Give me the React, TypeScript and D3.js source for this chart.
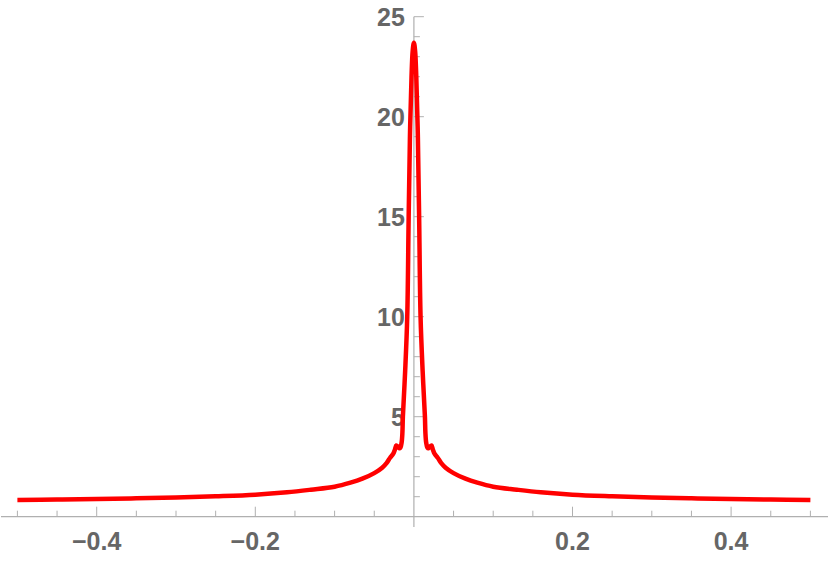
import React from "react";
import * as d3 from "d3";

const W = 830;
const H = 565;

// curve samples
const xs = [
  -0.5, -0.45, -0.4, -0.35, -0.3, -0.25, -0.2, -0.16, -0.13, -0.1, -0.08, -0.065, -0.05, -0.04, -0.0345,
  -0.03, -0.026, -0.024, -0.0222, -0.02, -0.0183, -0.017, -0.0155, -0.0145, -0.0139, -0.011, -0.0084,
  -0.0066, -0.005, -0.003, -0.0015, 0,
  0.0015, 0.003, 0.005, 0.0066, 0.0084, 0.011, 0.0139, 0.0145, 0.0155, 0.017, 0.0183, 0.02, 0.0222,
  0.024, 0.026, 0.03, 0.0345, 0.04, 0.05, 0.065, 0.08, 0.1, 0.13, 0.16, 0.2, 0.25, 0.3, 0.35, 0.4, 0.45, 0.5,
];
const ys = [
  0.84, 0.86, 0.89, 0.92, 0.96, 1.02, 1.1, 1.22, 1.35, 1.5, 1.7, 1.9, 2.18, 2.45, 2.68,
  2.95, 3.15, 3.35, 3.56, 3.5, 3.42, 3.45, 3.7, 4.2, 5.0, 7.3, 10.0,
  15.0, 19.0, 22.0, 23.3, 23.7,
  23.3, 22.0, 19.0, 15.0, 10.0, 7.3, 5.0, 4.2, 3.7, 3.45, 3.42, 3.5, 3.56,
  3.35, 3.15, 2.95, 2.68, 2.45, 2.18, 1.9, 1.7, 1.5, 1.35, 1.22, 1.1, 1.02, 0.96, 0.92, 0.89, 0.86, 0.84,
];

const xMajorTicks = [-0.4, -0.2, 0.2, 0.4];
const xMajorLabels = ["\u22120.4", "\u22120.2", "0.2", "0.4"];
const xMinorTicks = [-0.5, -0.45, -0.35, -0.3, -0.25, -0.15, -0.1, -0.05, 0.05, 0.1, 0.15, 0.25, 0.3, 0.35, 0.45, 0.5];
const yMajorTicks = [5, 10, 15, 20, 25];
const yMajorLabels = ["5", "10", "15", "20", "25"];
const yMinorTicks = [1, 2, 3, 4, 6, 7, 8, 9, 11, 12, 13, 14, 16, 17, 18, 19, 21, 22, 23, 24];

export default function App() {
  const x = d3.scaleLinear().domain([-0.5, 0.5]).range([17.4, 810.4]);
  const y = d3.scaleLinear().domain([0, 25]).range([516.7, 16.7]);
  const pts = xs.map((v, i) => [v, ys[i]] as [number, number]);
  const line = d3
    .line<[number, number]>()
    .x((d) => x(d[0]))
    .y((d) => y(d[1]))
    .curve(d3.curveCatmullRom.alpha(0.5));
  const x0 = x(0);
  const y0 = y(0);
  const axisColor = "#b0b0b0";
  const labelColor = "#666666";
  const font = "'Liberation Sans', Arial, sans-serif";
  return (
    <svg
      width={W}
      height={H}
      style={{ position: "absolute", left: 0, top: 0, background: "#fff" }}
    >
      {/* axes */}
      <line x1={1} x2={828} y1={y0} y2={y0} stroke={axisColor} strokeWidth={1.2} />
      <line x1={x0} x2={x0} y1={y(25)} y2={527} stroke={axisColor} strokeWidth={1.2} />
      {xMajorTicks.map((t) => (
        <line key={"xM" + t} x1={x(t)} x2={x(t)} y1={y0} y2={y0 - 10} stroke={axisColor} strokeWidth={1} />
      ))}
      {xMinorTicks.map((t) => (
        <line key={"xm" + t} x1={x(t)} x2={x(t)} y1={y0} y2={y0 - 6} stroke={axisColor} strokeWidth={1} />
      ))}
      {yMajorTicks.map((t) => (
        <line key={"yM" + t} x1={x0} x2={x0 + 10} y1={y(t)} y2={y(t)} stroke={axisColor} strokeWidth={1} />
      ))}
      {yMinorTicks.map((t) => (
        <line key={"ym" + t} x1={x0} x2={x0 + 6} y1={y(t)} y2={y(t)} stroke={axisColor} strokeWidth={1} />
      ))}
      {xMajorTicks.map((t, i) => (
        <text
          key={"xl" + t}
          x={x(t)}
          y={550}
          textAnchor="middle"
          fontFamily={font}
          fontWeight="bold"
          fontSize={25}
          fill={labelColor}
        >
          {xMajorLabels[i]}
        </text>
      ))}
      {yMajorTicks.map((t, i) => (
        <text
          key={"yl" + t}
          x={x0 - 9}
          y={y(t)}
          dy="0.36em"
          textAnchor="end"
          fontFamily={font}
          fontWeight="bold"
          fontSize={25}
          fill={labelColor}
        >
          {yMajorLabels[i]}
        </text>
      ))}
      <path d={line(pts) || ""} fill="none" stroke="#ff0000" strokeWidth={4.5} strokeLinejoin="round" />
    </svg>
  );
}
